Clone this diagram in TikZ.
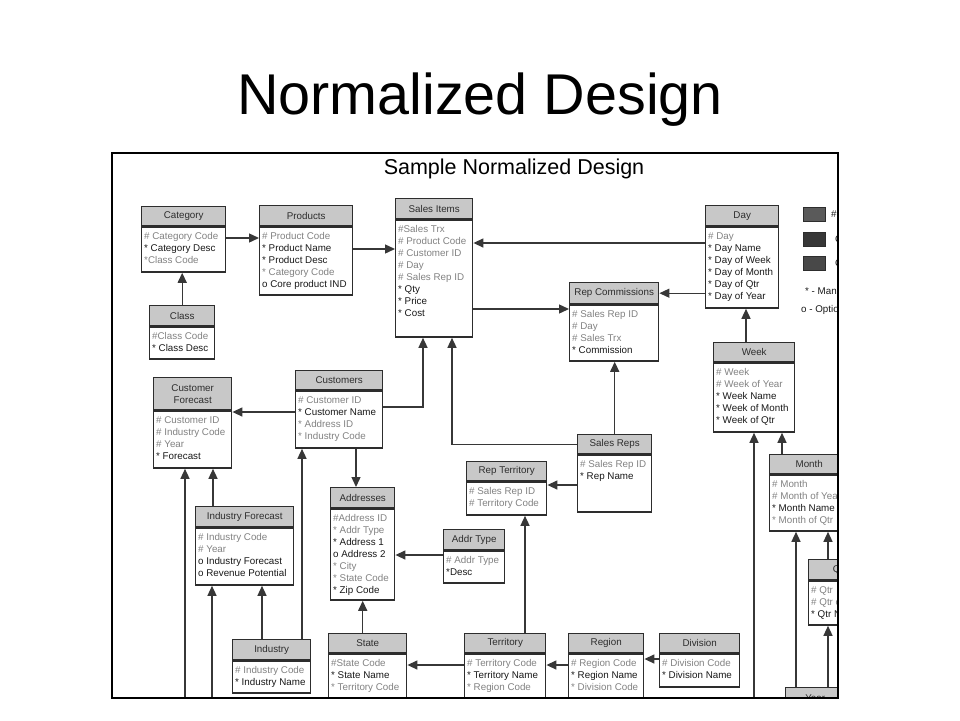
\documentclass[tikz,border=0pt]{standalone}
\usepackage{fontspec}
\setmainfont{Liberation Sans}
\usetikzlibrary{arrows.meta}

\definecolor{hdrgray}{RGB}{200,200,200}
\definecolor{boxline}{RGB}{45,45,45}
\definecolor{keygray}{RGB}{130,130,130}
\definecolor{attrblack}{RGB}{25,25,25}
\definecolor{wire}{RGB}{55,55,55}
\definecolor{legA}{RGB}{90,90,90}
\definecolor{legB}{RGB}{55,55,55}
\definecolor{legC}{RGB}{72,72,72}

\newcommand{\gk}[1]{\strut\textcolor{keygray}{#1}}
\newcommand{\bk}[1]{\strut\textcolor{attrblack}{#1}}
% table: name, x, y, width, header height, body height, header, entries
\newcommand{\erbox}[8]{%
  \node[hdr, minimum width=#4pt, minimum height=#5pt] (#1h) at (#2,#3) {#7};
  \node[bdy, minimum width=#4pt, minimum height=#6pt] (#1) at (#1h.south west) {};
  \node[ent] (#1t) at (#1.north west) {#8};
}

\tikzset{
  hdr/.style={anchor=north west, draw=boxline, fill=hdrgray, line width=1.4pt,
    inner sep=0pt, align=center, text=boxline, font=\fontsize{9.8}{12}\selectfont},
  bdy/.style={anchor=north west, draw=boxline, fill=white, line width=1.4pt, inner sep=0pt},
  ent/.style={anchor=north west, inner xsep=3pt, inner ysep=4pt, align=left,
    font=\fontsize{9.8}{12}\selectfont},
  fk/.style={draw=wire, line width=1.4pt, -{Triangle[length=10pt,width=9pt]}},
  legbox/.style={draw=boxline, line width=1pt, minimum width=22pt, minimum height=14pt, inner sep=0pt},
  legtxt/.style={inner sep=0pt, text=attrblack, font=\fontsize{9.8}{12}\selectfont},
}

\begin{document}
\begin{tikzpicture}[x=1pt,y=-1pt]
  \useasboundingbox (0,0) rectangle (960,720);
  \node[anchor=base, font=\fontsize{57.5}{60}\selectfont] (title) at (480,114) {Normalized Design};
  \node[anchor=base, font=\fontsize{21.5}{24}\selectfont] (subtitle) at (514,174) {Sample Normalized Design};

  \begin{scope}
    \clip (112,153) rectangle (838,698);
    \coordinate (fbot) at (0,698);

    % tables
    \erbox{cat}{141}{206}{84}{19}{45}{Category}{\gk{\# Category Code}\\\bk{* Category Desc}\\\gk{*Class Code}}
    \erbox{prod}{259}{205}{93}{20}{68}{Products}{\gk{\# Product Code}\\\bk{* Product Name}\\\bk{* Product Desc}\\\gk{* Category Code}\\\bk{o Core product IND}}
    \erbox{cls}{149}{305}{65}{20}{32}{Class}{\gk{\#Class Code}\\\bk{* Class Desc}}
    \erbox{si}{395}{198}{77}{20}{117}{Sales Items}{\gk{\#Sales Trx}\\\gk{\# Product Code}\\\gk{\# Customer ID}\\\gk{\# Day}\\\gk{\# Sales Rep ID}\\\bk{* Qty}\\\bk{* Price}\\\bk{* Cost}}
    \erbox{rc}{569}{282}{89}{21}{56}{Rep Commissions}{\gk{\# Sales Rep ID}\\\gk{\# Day}\\\gk{\# Sales Trx}\\\bk{* Commission}}
    \erbox{day}{705}{205}{73}{20}{81}{Day}{\gk{\# Day}\\\bk{* Day Name}\\\bk{* Day of Week}\\\bk{* Day of Month}\\\bk{* Day of Qtr}\\\bk{* Day of Year}}
    \erbox{week}{713}{342}{81}{19}{69}{Week}{\gk{\# Week}\\\gk{\# Week of Year}\\\bk{* Week Name}\\\bk{* Week of Month}\\\bk{* Week of Qtr}}
    \erbox{cf}{153}{377}{78}{32}{57}{Customer\\Forecast}{\gk{\# Customer ID}\\\gk{\# Industry Code}\\\gk{\# Year}\\\bk{* Forecast}}
    \erbox{cust}{295}{370}{87}{19}{57}{Customers}{\gk{\# Customer ID}\\\bk{* Customer Name}\\\gk{* Address ID}\\\gk{* Industry Code}}
    \erbox{indf}{195}{506}{98}{20}{57}{Industry Forecast}{\gk{\# Industry Code}\\\gk{\# Year}\\\bk{o Industry Forecast}\\\bk{o Revenue Potential}}
    \erbox{ind}{232}{639}{78}{20}{32}{Industry}{\gk{\# Industry Code}\\\bk{* Industry Name}}
    \erbox{addr}{330}{487}{64}{20}{91}{Addresses}{\gk{\#Address ID}\\\gk{* Addr Type}\\\bk{* Address 1}\\\bk{o Address 2}\\\gk{* City}\\\gk{* State Code}\\\bk{* Zip Code}}
    \erbox{atype}{443}{529}{61}{20}{32}{Addr Type}{\gk{\# Addr Type}\\\bk{*Desc}}
    \erbox{rt}{466}{461}{80}{19}{33}{Rep Territory}{\gk{\# Sales Rep ID}\\\gk{\# Territory Code}}
    \erbox{sr}{577}{434}{74}{19}{57}{Sales Reps}{\gk{\# Sales Rep ID}\\\bk{* Rep Name}}
    \erbox{state}{328}{633}{78}{19}{60}{State}{\gk{\#State Code}\\\bk{* State Name}\\\gk{* Territory Code}}
    \erbox{terr}{464}{633}{81}{19}{60}{Territory}{\gk{\# Territory Code}\\\bk{* Territory Name}\\\gk{* Region Code}}
    \erbox{reg}{568}{633}{75}{19}{60}{Region}{\gk{\# Region Code}\\\bk{* Region Name}\\\gk{* Division Code}}
    \erbox{div}{659}{633}{80}{19}{33}{Division}{\gk{\# Division Code}\\\bk{* Division Name}}
    \erbox{mon}{769}{454}{79}{19}{56}{Month}{\gk{\# Month}\\\gk{\# Month of Year}\\\bk{* Month Name}\\\gk{* Month of Qtr}}
    \erbox{qtr}{808}{559}{62}{20}{44}{Qtr}{\gk{\# Qtr}\\\gk{\# Qtr of Year}\\\bk{* Qtr Name}}
    \erbox{year}{785}{687}{59}{20}{30}{Year}{}

    % legend
    \node[legbox, fill=legA] (lg1) at (814,214) {};
    \node[legbox, fill=legB] (lg2) at (814,239.5) {};
    \node[legbox, fill=legC] (lg3) at (814,263.5) {};
    \node[legtxt, anchor=west] (lg1t) at (831,214) {\#};
    \node[legtxt, anchor=west] (lg2t) at (835,239.5) {C};
    \node[legtxt, anchor=west] (lg3t) at (835,263.5) {C};
    \node[legtxt, anchor=base west] (mand) at (805,294) {* - Mandatory};
    \node[legtxt, anchor=base west] (opt) at (801,312) {o - Optional};

    % relationships
    \draw[fk] (clsh.north) -- (cat.south -| clsh.north);
    \draw[fk] (cat.east |- 0,238) -- (prod.west |- 0,238);
    \draw[fk] (prod.east |- 0,249) -- (si.west |- 0,249);
    \draw[fk] (day.west |- 0,243) -- (si.east |- 0,243);
    \draw[fk] (si.east |- 0,309) -- (rc.west |- 0,309);
    \draw[fk] (day.west |- rch.east) -- (rch.east);
    \draw[fk] (weekh.north -| 746,0) -- (day.south -| 746,0);
    \draw[fk] (srh.north) -- (rc.south -| srh.north);
    \draw[fk] (cust.east |- 0,407) -| (si.south -| 423,0);
    \draw[fk] (srh.west) -| (si.south -| 452,0);
    \draw[fk] (sr.west |- 0,485) -- (rt.east |- 0,485);
    \draw[fk] (cust.west |- 0,412) -- (cf.east |- 0,412);
    \draw[fk] (cust.south -| 356,0) -- (addrh.north -| 356,0);
    \draw[fk] (atype.west |- 0,555) -- (addr.east |- 0,555);
    \draw[fk] (stateh.north -| addr.south) -- (addr.south);
    \draw[fk] (terr.west |- 0,665) -- (state.east |- 0,665);
    \draw[fk] (terrh.north -| 525,0) -- (rt.south -| 525,0);
    \draw[fk] (reg.west |- 0,665) -- (terr.east |- 0,665);
    \draw[fk] (div.west |- 0,659) -- (reg.east |- 0,659);
    \draw[fk] (indh.north -| 262,0) -- (indf.south -| 262,0);
    \draw[fk] (indh.north -| 302,0) -- (cust.south -| 302,0);
    \draw[fk] (indfh.north -| 213,0) -- (cf.south -| 213,0);
    \draw[fk] (fbot -| 185,0) -- (cf.south -| 185,0);
    \draw[fk] (fbot -| 212,0) -- (indf.south -| 212,0);
    \draw[fk] (fbot -| 754,0) -- (week.south -| 754,0);
    \draw[fk] (monh.north -| 782,0) -- (week.south -| 782,0);
    \draw[fk] (yearh.north -| 796,0) -- (mon.south -| 796,0);
    \draw[fk] (yearh.north -| 828,0) -- (qtr.south -| 828,0);
    \draw[fk] (qtrh.north -| 828,0) -- (mon.south -| 828,0);
  \end{scope}
  \draw[line width=1.4pt] (112,153) rectangle (838,698);
\end{tikzpicture}
\end{document}
